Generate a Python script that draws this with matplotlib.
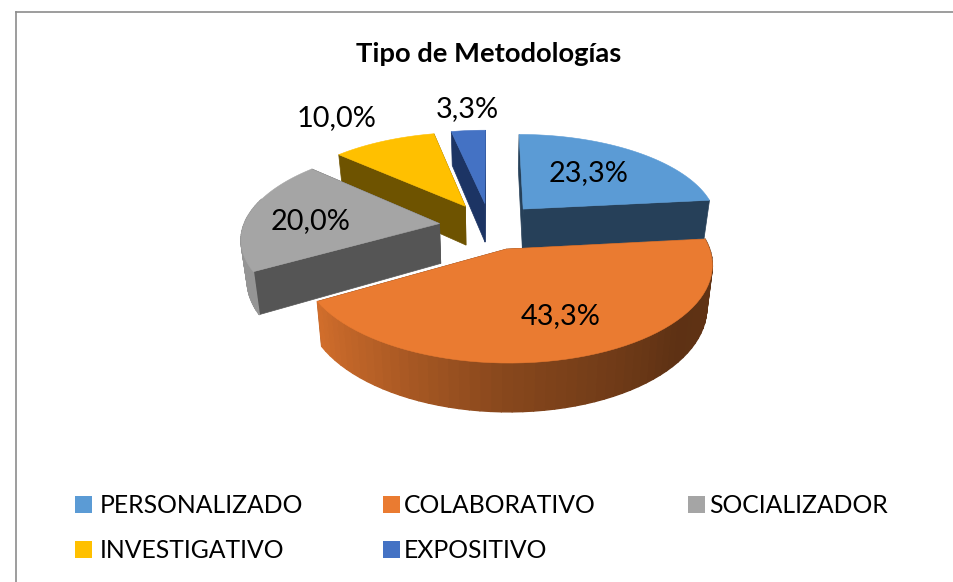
import numpy as np
import matplotlib
matplotlib.use('Agg')
import matplotlib.pyplot as plt
from matplotlib.collections import PolyCollection
from matplotlib.patches import Polygon, Rectangle

# datos
categorias = ['PERSONALIZADO', 'COLABORATIVO', 'SOCIALIZADOR', 'INVESTIGATIVO', 'EXPOSITIVO']
valores = [23.3, 43.3, 20.0, 10.0, 3.3]
titulo = 'Tipo de Metodologías'

colores = ['#5b9bd5', '#ea7b31', '#a5a5a5', '#ffc000', '#4472c4']
caras = ['#264059', '#5f3114', '#555555', '#6e5300', '#1c3464']

# parametros de la vista (pixeles)
cx, cy, rx, ry, p = 490, 226, 196, 90, 0.145
expl, fondo, enc = 0.26, 40, 0.975

plt.rcParams['font.family'] = ['Lato', 'DejaVu Sans']
fig = plt.figure(figsize=(9.54, 5.82), dpi=100)
ax = fig.add_axes([0, 0, 1, 1])
ax.set_xlim(0, 954)
ax.set_ylim(582, 0)
ax.axis('off')


def proy(u, v):
    s = 1 / (1 - p * v)
    return cx + rx * u * s, cy + ry * v * s, s


def abajo(x, y, s):
    return cx + (x - cx) * enc, y + fondo * s


def mezcla(col, f):
    return tuple(c * f for c in matplotlib.colors.to_rgb(col))


def sombra(t):
    # sombreado del borde curvo segun el angulo
    return np.interp(t, [90, 130, 180, 215, 240, 300], [0.42, 0.40, 0.58, 0.78, 0.90, 0.90])


total = sum(valores)
fin = np.cumsum(valores) / total * 360
ini = np.r_[0, fin[:-1]]

# orden de dibujo: de atras hacia adelante
orden = [0, 4, 3, 2, 1]
for z, i in enumerate(orden):
    a0, a1 = ini[i], fin[i]
    med = np.radians((a0 + a1) / 2)
    u0, v0 = expl * np.sin(med), -expl * np.cos(med)
    t = np.linspace(a0, a1, 60)
    u = u0 + np.sin(np.radians(t))
    v = v0 - np.cos(np.radians(t))
    x, y, s = proy(u, v)
    xb, yb = abajo(x, y, s)
    xa, ya, sa = proy(u0, v0)
    xab, yab = abajo(xa, ya, sa)

    # caras de corte, primero la de mas atras
    for k in sorted([0, -1], key=lambda k: v[k]):
        ax.add_patch(Polygon([(xa, ya), (x[k], y[k]), (xb[k], yb[k]), (xab, yab)],
                             closed=True, fc=caras[i], ec=caras[i], lw=0.5, zorder=2 + z))

    # borde curvo
    vis = v[:-1] > -0.3
    quads = [[(x[j], y[j]), (x[j + 1], y[j + 1]), (xb[j + 1], yb[j + 1]), (xb[j], yb[j])]
             for j in np.flatnonzero(vis)]
    cols = [mezcla(colores[i], sombra(t[j])) for j in np.flatnonzero(vis)]
    if quads:
        ax.add_collection(PolyCollection(quads, facecolors=cols, edgecolors=cols,
                                         lw=1.0, zorder=2 + z))

    # cara superior
    ax.add_patch(Polygon(np.c_[np.r_[xa, x], np.r_[ya, y]], closed=True, fc=colores[i],
                         ec=colores[i], lw=0.4, zorder=2.5 + z))

# marco
ax.plot([16, 16], [582, 12], color='#8c8c8c', lw=1.2, zorder=1)
ax.plot([16, 954], [12, 12], color='#8c8c8c', lw=1.2, zorder=1)

ax.text(489, 54, titulo, ha='center', va='center', fontsize=19.7, fontweight='bold', color='black')

# etiquetas de datos
pos_etq = [(589, 173), (561, 316.5), (311, 221), (337, 118), (467, 109)]
for val, (px, py) in zip(valores, pos_etq):
    ax.text(px, py, f'{val:.1f}%'.replace('.', ','), ha='center', va='center',
            fontsize=20.8, color='black', zorder=20)

# leyenda
pos_ley = [(75, 504), (383, 504), (688, 504), (75, 549), (383, 549)]
for nom, col, (px, py) in zip(categorias, colores, pos_ley):
    ax.add_patch(Rectangle((px, py - 8.5), 17, 17, fc=col, ec='none'))
    ax.text(px + 25 if px < 300 else px + 21, py + 1.5, nom, ha='left', va='center',
            fontsize=17.8, color='black')

fig.savefig('out.png', dpi=100)
